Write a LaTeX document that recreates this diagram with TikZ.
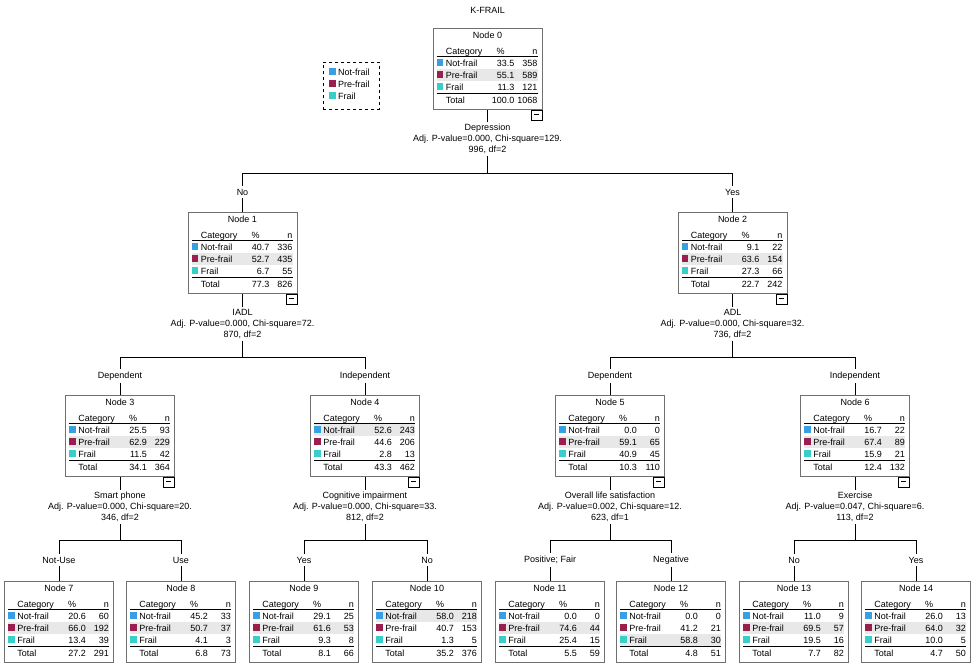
\documentclass[tikz,border=0pt]{standalone}
\usepackage{fontspec}
\setmainfont{Liberation Sans}
\usetikzlibrary{positioning}

\definecolor{notfrail}{HTML}{3A9EE4}
\definecolor{prefrail}{HTML}{9A1E4E}
\definecolor{frail}{HTML}{38CECA}
\definecolor{rowhl}{HTML}{E8E8E8}
\definecolor{boxline}{HTML}{707070}

% one tree node: name, x, top y, number, rows pct/n, total pct, total n, highlighted row
\newcommand{\treenode}[8]{%
  \node[tbox, anchor=north] (#1) at (#2,#3) {};
  \node[cell, anchor=base] (#1-title) at ([shift={(0,10)}]#1.north) {Node #4};
  \node[cell, anchor=base west] (#1-hcat) at ([shift={(13,26)}]#1.north west) {Category};
  \node[cell, anchor=base] (#1-hpct) at ([shift={(68,26)}]#1.north west) {\%};
  \node[cell, anchor=base east] (#1-hn) at ([shift={(105,26)}]#1.north west) {n};
  \draw[rule] ([shift={(4,28.5)}]#1.north west) -- ++(101,0);
  \foreach \pc/\nc [count=\i] in {#5} {
    \pgfmathsetmacro\yb{26+12*\i}
    \ifcase\i\or\def\rowcol{notfrail}\def\rowname{Not-frail}\or\def\rowcol{prefrail}\def\rowname{Pre-frail}\or\def\rowcol{frail}\def\rowname{Frail}\fi
    \ifnum\i=#8
      \fill[rowhl] ([shift={(4,\yb-9)}]#1.north west) rectangle ([shift={(105,\yb+3)}]#1.north west);
    \fi
    \fill[\rowcol] ([shift={(4,\yb-7)}]#1.north west) rectangle ++(6.5,6.5);
    \node[cell, anchor=base west] (#1-c\i) at ([shift={(13,\yb)}]#1.north west) {\rowname};
    \node[cell, anchor=base east] (#1-p\i) at ([shift={(82,\yb)}]#1.north west) {\pc};
    \node[cell, anchor=base east] (#1-n\i) at ([shift={(105,\yb)}]#1.north west) {\nc};
  }
  \draw[rule] ([shift={(4,65)}]#1.north west) -- ++(101,0);
  \node[cell, anchor=base west] (#1-tot) at ([shift={(13,75)}]#1.north west) {Total};
  \node[cell, anchor=base east] (#1-tp) at ([shift={(82,75)}]#1.north west) {#6};
  \node[cell, anchor=base east] (#1-tn) at ([shift={(105,75)}]#1.north west) {#7};
}

% small collapse square under a split node
\newcommand{\collapsed}[1]{%
  \node[minusbox, anchor=north east] (#1-minus) at (#1.south east) {};
  \draw[rule] ([shift={(3,5)}]#1-minus.north west) -- ++(5,0);
}

\begin{document}
\begin{tikzpicture}[x=1pt, y=-1pt,
    cell/.style={font=\fontsize{9}{10.5}\selectfont, inner sep=0pt},
    tbox/.style={draw=boxline, line width=0.8pt, minimum width=109, minimum height=81, inner sep=0pt},
    minusbox/.style={draw=black, line width=0.7pt, minimum width=11, minimum height=10, inner sep=0pt},
    legendbox/.style={draw=black, dashed, line width=0.7pt, minimum width=56, minimum height=47, inner sep=0pt},
    split/.style={cell, align=center, inner xsep=2pt, inner ysep=2pt},
    edgelabel/.style={cell, inner sep=3pt},
    rule/.style={draw=black, line width=0.7pt},
    conn/.style={draw=black, line width=0.8pt}
  ]
  \useasboundingbox (0,0) rectangle (976,665);

  \node[cell] (title) at (487.5,10) {K-FRAIL};

  % legend
  \node[legendbox, anchor=north west] (legend) at (323,62) {};
  \foreach \c/\t [count=\i] in {notfrail/Not-frail, prefrail/Pre-frail, frail/Frail} {
    \fill[\c] ([shift={(6,12*\i-6)}]legend.north west) rectangle ++(6.5,6.5);
    \node[cell, anchor=base west] (legend-\i) at ([shift={(15,12*\i+1)}]legend.north west) {\t};
  }

  % level 0
  \treenode{n0}{487.5}{28}{0}{33.5/358, 55.1/589, 11.3/121}{100.0}{1068}{2}
  \collapsed{n0}
  \node[split] (s0) at (487.5,139) {Depression\\Adj. P-value=0.000, Chi-square=129.\\[1pt]996, df=2};
  \coordinate (b0) at (487.5,173);
  \node[edgelabel] (e1) at (242.5,192) {No};
  \node[edgelabel] (e2) at (732.5,192) {Yes};

  % level 1
  \treenode{n1}{242.5}{212}{1}{40.7/336, 52.7/435, 6.7/55}{77.3}{826}{2}
  \treenode{n2}{732.5}{212}{2}{9.1/22, 63.6/154, 27.3/66}{22.7}{242}{2}
  \collapsed{n1}
  \collapsed{n2}
  \node[split] (s1) at (242.5,324) {IADL\\Adj. P-value=0.000, Chi-square=72.\\[1pt]870, df=2};
  \node[split] (s2) at (732.5,324) {ADL\\Adj. P-value=0.000, Chi-square=32.\\[1pt]736, df=2};
  \coordinate (b1) at (242.5,357);
  \coordinate (b2) at (732.5,357);
  \node[edgelabel] (e3) at (120,376) {Dependent};
  \node[edgelabel] (e4) at (365,376) {Independent};
  \node[edgelabel] (e5) at (610,376) {Dependent};
  \node[edgelabel] (e6) at (855,376) {Independent};

  % level 2
  \treenode{n3}{120}{395}{3}{25.5/93, 62.9/229, 11.5/42}{34.1}{364}{2}
  \treenode{n4}{365}{395}{4}{52.6/243, 44.6/206, 2.8/13}{43.3}{462}{1}
  \treenode{n5}{610}{395}{5}{0.0/0, 59.1/65, 40.9/45}{10.3}{110}{2}
  \treenode{n6}{855}{395}{6}{16.7/22, 67.4/89, 15.9/21}{12.4}{132}{2}
  \foreach \k in {3,...,6} {\collapsed{n\k}}
  \node[split] (s3) at (120,507) {Smart phone\\Adj. P-value=0.000, Chi-square=20.\\[1pt]346, df=2};
  \node[split] (s4) at (365,507) {Cognitive impairment\\Adj. P-value=0.000, Chi-square=33.\\[1pt]812, df=2};
  \node[split] (s5) at (610,507) {Overall life satisfaction\\Adj. P-value=0.002, Chi-square=12.\\[1pt]623, df=1};
  \node[split] (s6) at (855,507) {Exercise\\Adj. P-value=0.047, Chi-square=6.\\[1pt]113, df=2};
  \foreach \k/\x in {3/120, 4/365, 5/610, 6/855} {\coordinate (b\k) at (\x,540);}
  \node[edgelabel] (e7) at (59,560) {Not-Use};
  \node[edgelabel] (e8) at (181,560) {Use};
  \node[edgelabel] (e9) at (304,560) {Yes};
  \node[edgelabel] (e10) at (427,560) {No};
  \node[edgelabel] (e11) at (550,560) {Positive; Fair};
  \node[edgelabel] (e12) at (671,560) {Negative};
  \node[edgelabel] (e13) at (794,560) {No};
  \node[edgelabel] (e14) at (916,560) {Yes};

  % level 3
  \treenode{n7}{59}{581}{7}{20.6/60, 66.0/192, 13.4/39}{27.2}{291}{2}
  \treenode{n8}{181}{581}{8}{45.2/33, 50.7/37, 4.1/3}{6.8}{73}{2}
  \treenode{n9}{304}{581}{9}{29.1/25, 61.6/53, 9.3/8}{8.1}{66}{2}
  \treenode{n10}{427}{581}{10}{58.0/218, 40.7/153, 1.3/5}{35.2}{376}{1}
  \treenode{n11}{550}{581}{11}{0.0/0, 74.6/44, 25.4/15}{5.5}{59}{2}
  \treenode{n12}{671}{581}{12}{0.0/0, 41.2/21, 58.8/30}{4.8}{51}{3}
  \treenode{n13}{794}{581}{13}{11.0/9, 69.5/57, 19.5/16}{7.7}{82}{2}
  \treenode{n14}{916}{581}{14}{26.0/13, 64.0/32, 10.0/5}{4.7}{50}{2}

  % connectors
  \foreach \p/\a/\b in {0/1/2, 1/3/4, 2/5/6, 3/7/8, 4/9/10, 5/11/12, 6/13/14} {
    \draw[conn] (n\p) -- (s\p) -- (b\p);
    \draw[conn] (b\p) -| (e\a) -- (n\a);
    \draw[conn] (b\p) -| (e\b) -- (n\b);
  }
\end{tikzpicture}
\end{document}
